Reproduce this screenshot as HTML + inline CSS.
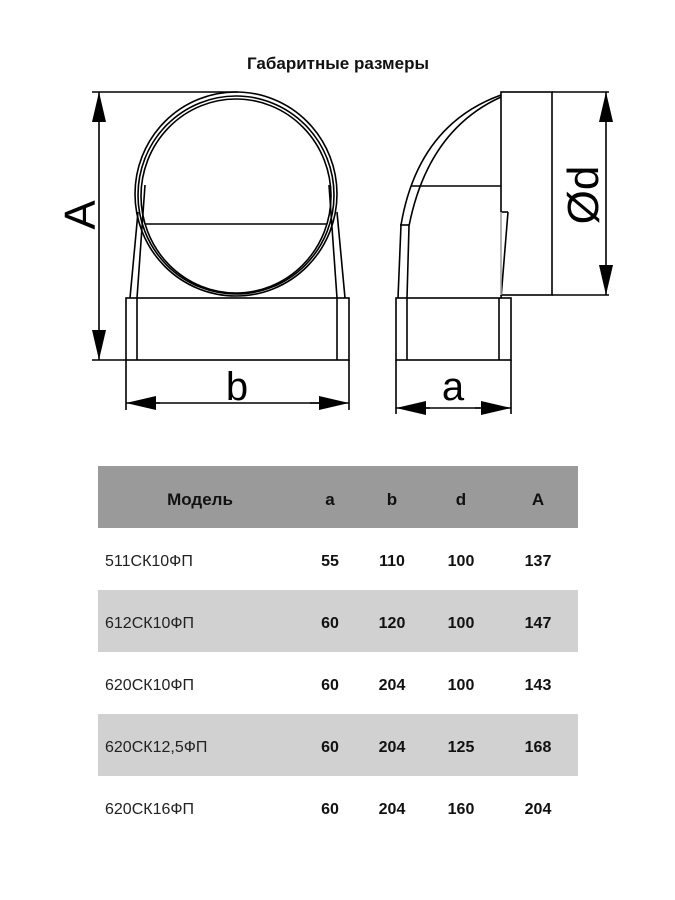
<!DOCTYPE html>
<html><head><meta charset="utf-8"><style>
body{margin:0;background:#fff;width:675px;height:900px;overflow:hidden;font-family:"Liberation Sans","DejaVu Sans",sans-serif}
svg{position:absolute;left:0;top:0}
</style></head><body>
<svg width="675" height="900" viewBox="0 0 675 900">
<defs><marker id="ar" viewBox="0 0 30 14" refX="30" refY="7" markerWidth="30" markerHeight="14" markerUnits="userSpaceOnUse" orient="auto"><path d="M0,0 L30,7 L0,14 z" fill="#000"/></marker></defs>
<text x="338" y="69" text-anchor="middle" font-size="17" font-weight="bold" fill="#111">Габаритные размеры</text>
<g fill="none" stroke="#000" stroke-width="1.6">
<!-- left view -->
<line x1="92" y1="92" x2="238" y2="92"/>
<line x1="92" y1="360" x2="126" y2="360"/>
<line x1="99" y1="150" x2="99" y2="300"/>
<line x1="99" y1="150" x2="99" y2="92" marker-end="url(#ar)"/>
<line x1="99" y1="300" x2="99" y2="360" marker-end="url(#ar)"/>
<ellipse cx="236" cy="194" rx="101" ry="102"/>
<ellipse cx="236" cy="195" rx="98" ry="99"/>
<ellipse cx="236" cy="196" rx="95" ry="97"/>
<line x1="145" y1="224" x2="327" y2="224"/>
<rect x="126" y="298" width="223" height="62"/>
<line x1="137" y1="298" x2="137" y2="360"/>
<line x1="337" y1="298" x2="337" y2="360"/>
<line x1="130" y1="298" x2="138" y2="212"/>
<line x1="137" y1="298" x2="145" y2="185"/>
<line x1="345" y1="298" x2="337" y2="212"/>
<line x1="337" y1="298" x2="329" y2="185"/>
<line x1="126" y1="360" x2="126" y2="410"/>
<line x1="349" y1="360" x2="349" y2="410"/>
<line x1="160" y1="403" x2="126" y2="403" marker-end="url(#ar)"/>
<line x1="310" y1="403" x2="349" y2="403" marker-end="url(#ar)"/>
<line x1="155" y1="403" x2="320" y2="403"/>
<!-- right view -->
<rect x="396" y="298" width="115" height="62"/>
<line x1="407" y1="298" x2="407" y2="360"/>
<line x1="499" y1="298" x2="499" y2="360"/>
<rect x="501" y="92" width="51" height="203"/>
<line x1="501" y1="212" x2="508" y2="212"/>
<line x1="508" y1="212" x2="501" y2="298"/>
<line x1="501" y1="212" x2="501" y2="295" stroke="#fff" stroke-width="1"/>
<line x1="411" y1="186" x2="501" y2="186"/>
<path d="M501,95 Q418,125 401,225 L398,298"/>
<path d="M501,97 Q428,130 409,226 L407,298"/>
<line x1="400" y1="225" x2="409" y2="225"/>
<line x1="552" y1="92" x2="609" y2="92"/>
<line x1="552" y1="295" x2="609" y2="295"/>
<line x1="606" y1="150" x2="606" y2="240"/>
<line x1="606" y1="150" x2="606" y2="92" marker-end="url(#ar)"/>
<line x1="606" y1="240" x2="606" y2="295" marker-end="url(#ar)"/>
<line x1="396" y1="360" x2="396" y2="414"/>
<line x1="511" y1="360" x2="511" y2="414"/>
<line x1="430" y1="408" x2="396" y2="408" marker-end="url(#ar)"/>
<line x1="475" y1="408" x2="511" y2="408" marker-end="url(#ar)"/>
<line x1="425" y1="408" x2="480" y2="408"/>
</g>
<text transform="translate(95,215) rotate(-90)" text-anchor="middle" font-size="44" fill="#000">A</text>
<text x="237" y="400" text-anchor="middle" font-size="40" fill="#000">b</text>
<text x="453" y="400" text-anchor="middle" font-size="40" fill="#000">a</text>
<text transform="translate(598,195) rotate(-90)" text-anchor="middle" font-size="44" fill="#000">Ød</text>
<!-- table -->
<rect x="98" y="466" width="480" height="62" fill="#9a9a9a"/>
<rect x="98" y="590" width="480" height="62" fill="#d1d1d1"/>
<rect x="98" y="714" width="480" height="62" fill="#d1d1d1"/>
<g font-size="17" font-weight="bold" fill="#111" text-anchor="middle">
<text x="200" y="505">Модель</text><text x="330" y="505">a</text><text x="392" y="505">b</text><text x="461" y="505">d</text><text x="538" y="505">A</text>
</g>
<g font-size="16" fill="#222">
<text x="105" y="566">511СК10ФП</text>
<text x="105" y="628">612СК10ФП</text>
<text x="105" y="690">620СК10ФП</text>
<text x="105" y="752">620СК12,5ФП</text>
<text x="105" y="814">620СК16ФП</text>
</g>
<g font-size="16" font-weight="bold" fill="#111" text-anchor="middle">
<text x="330" y="566">55</text><text x="392" y="566">110</text><text x="461" y="566">100</text><text x="538" y="566">137</text>
<text x="330" y="628">60</text><text x="392" y="628">120</text><text x="461" y="628">100</text><text x="538" y="628">147</text>
<text x="330" y="690">60</text><text x="392" y="690">204</text><text x="461" y="690">100</text><text x="538" y="690">143</text>
<text x="330" y="752">60</text><text x="392" y="752">204</text><text x="461" y="752">125</text><text x="538" y="752">168</text>
<text x="330" y="814">60</text><text x="392" y="814">204</text><text x="461" y="814">160</text><text x="538" y="814">204</text>
</g>
</svg>
</body></html>
